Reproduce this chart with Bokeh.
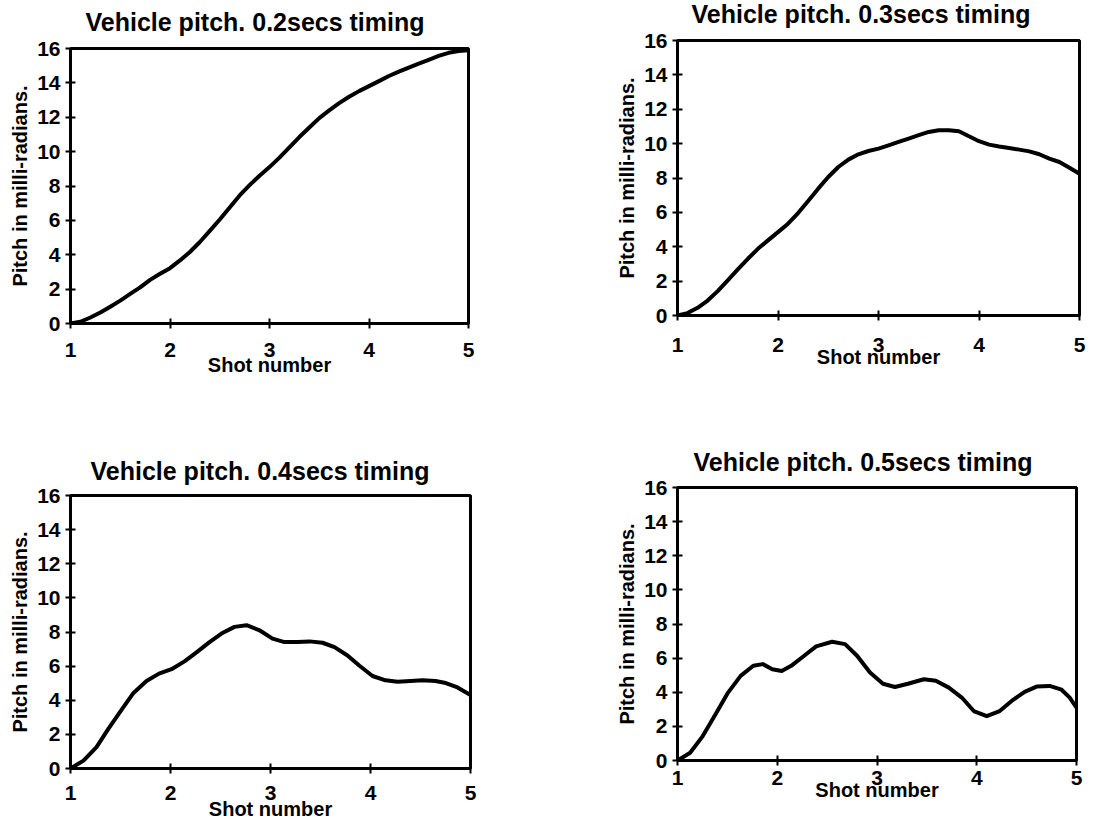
from bokeh.plotting import figure
from bokeh.layouts import row, column
from bokeh.models import FixedTicker
from bokeh.embed import file_html
from bokeh.resources import INLINE

# ---- data ----
titles = ["Vehicle pitch. 0.2secs timing", "Vehicle pitch. 0.3secs timing",
          "Vehicle pitch. 0.4secs timing", "Vehicle pitch. 0.5secs timing"]
x_label = "Shot number"
y_label = "Pitch in milli-radians."
x_ticks = [1, 2, 3, 4, 5]
y_ticks = [0, 2, 4, 6, 8, 10, 12, 14, 16]

shot_02 = [1.0, 1.1, 1.2, 1.3, 1.4, 1.5, 1.6, 1.7, 1.8, 1.9, 2.0, 2.1, 2.2, 2.3, 2.4, 2.5,
           2.6, 2.7, 2.8, 2.9, 3.0, 3.1, 3.2, 3.3, 3.4, 3.5, 3.6, 3.7, 3.8, 3.9, 4.0, 4.1,
           4.2, 4.3, 4.4, 4.5, 4.6, 4.7, 4.8, 4.9, 5.0]
pitch_02 = [0.0, 0.1, 0.35, 0.64, 0.98, 1.33, 1.72, 2.1, 2.54, 2.89, 3.22, 3.67, 4.16, 4.74,
            5.39, 6.05, 6.75, 7.45, 8.05, 8.6, 9.1, 9.65, 10.25, 10.85, 11.4, 11.95, 12.4,
            12.82, 13.19, 13.52, 13.81, 14.1, 14.4, 14.65, 14.89, 15.12, 15.34, 15.57, 15.75,
            15.85, 15.9]

shot_03 = [1.0, 1.1, 1.2, 1.3, 1.4, 1.5, 1.6, 1.7, 1.8, 1.9, 2.0, 2.1, 2.2, 2.3, 2.4, 2.5,
           2.6, 2.7, 2.8, 2.9, 3.0, 3.1, 3.2, 3.3, 3.4, 3.5, 3.6, 3.7, 3.8, 3.9, 4.0, 4.1,
           4.2, 4.3, 4.4, 4.5, 4.6, 4.7, 4.8, 4.9, 5.0]
pitch_03 = [0.0, 0.14, 0.45, 0.87, 1.42, 2.04, 2.68, 3.3, 3.88, 4.37, 4.85, 5.34, 5.96, 6.66,
            7.38, 8.06, 8.64, 9.07, 9.38, 9.57, 9.71, 9.9, 10.1, 10.29, 10.49, 10.68, 10.78,
            10.78, 10.72, 10.43, 10.14, 9.94, 9.83, 9.75, 9.65, 9.55, 9.38, 9.13, 8.93, 8.6,
            8.25]

shot_04 = [1.0, 1.13, 1.26, 1.38, 1.51, 1.63, 1.76, 1.885, 2.01, 2.14, 2.26, 2.39, 2.51, 2.64,
           2.76, 2.89, 3.02, 3.14, 3.27, 3.39, 3.52, 3.64, 3.77, 3.89, 4.02, 4.15, 4.27, 4.40,
           4.52, 4.65, 4.74, 4.87, 5.0]
pitch_04 = [0.0, 0.46, 1.25, 2.34, 3.44, 4.43, 5.13, 5.56, 5.82, 6.28, 6.81, 7.41, 7.91, 8.3,
            8.4, 8.1, 7.61, 7.41, 7.41, 7.45, 7.37, 7.11, 6.62, 6.02, 5.42, 5.17, 5.09, 5.13,
            5.17, 5.13, 5.03, 4.75, 4.3]

shot_05 = [1.0, 1.127, 1.253, 1.38, 1.507, 1.633, 1.76, 1.855, 1.95, 2.045, 2.14, 2.27, 2.39,
           2.55, 2.68, 2.80, 2.93, 3.06, 3.18, 3.31, 3.47, 3.59, 3.72, 3.85, 3.97, 4.10, 4.23,
           4.35, 4.48, 4.60, 4.73, 4.85, 4.93, 5.0]
pitch_05 = [0.0, 0.45, 1.43, 2.7, 3.98, 4.96, 5.55, 5.65, 5.35, 5.25, 5.55, 6.14, 6.69, 6.96,
            6.82, 6.14, 5.16, 4.5, 4.31, 4.5, 4.76, 4.67, 4.27, 3.69, 2.9, 2.6, 2.9, 3.49, 4.02,
            4.33, 4.37, 4.15, 3.7, 3.1]

FONT = "Liberation Sans"


def panel(title, xs, ys, width, height, left, top, fw, fh, title_offset, title_standoff,
          tick_standoff, label_standoff, extra_top=0):
    p = figure(width=width, height=height + extra_top, frame_width=fw, frame_height=fh,
               x_range=(1, 5), y_range=(0, 16), output_backend="svg",
               toolbar_location=None, title=title,
               min_border_left=left, min_border_top=top + extra_top,
               min_border_right=width - left - fw, min_border_bottom=height - top - fh)
    if extra_top:
        p.margin = (-extra_top, 0, 0, 0)
    p.title.text_font = FONT
    p.title.text_font_size = "25px"
    p.title.text_font_style = "bold"
    p.title.text_color = "black"
    p.title.align = "left"
    p.title.offset = title_offset
    p.title.standoff = title_standoff
    p.xgrid.visible = False
    p.ygrid.visible = False
    p.background_fill_color = "white"
    p.border_fill_color = "white"
    p.outline_line_color = "black"
    p.outline_line_width = 3
    for ax in (p.xaxis[0], p.yaxis[0]):
        ax.axis_line_width = 3
        ax.axis_line_color = "black"
        ax.major_tick_line_width = 2
        ax.major_tick_line_color = "black"
        ax.major_tick_in = 5
        ax.major_tick_out = 5
        ax.minor_tick_line_color = None
        ax.major_label_text_font = FONT
        ax.major_label_text_font_size = "21px"
        ax.major_label_text_font_style = "bold"
        ax.major_label_text_color = "black"
        ax.axis_label_text_font = FONT
        ax.axis_label_text_font_style = "bold"
        ax.axis_label_text_color = "black"
    p.xaxis[0].axis_label_text_font_size = "20px"
    p.yaxis[0].axis_label_text_font_size = "20px"
    p.xaxis[0].ticker = FixedTicker(ticks=x_ticks)
    p.yaxis[0].ticker = FixedTicker(ticks=y_ticks)
    p.xaxis[0].axis_label = x_label
    p.yaxis[0].axis_label = y_label
    p.xaxis[0].major_label_standoff = tick_standoff
    p.xaxis[0].axis_label_standoff = label_standoff
    p.yaxis[0].major_label_standoff = 5
    p.yaxis[0].axis_label_standoff = 3
    p.line(xs, ys, line_color="black", line_width=4, line_join="round", line_cap="round")
    return p


p1 = panel(titles[0], shot_02, pitch_02, 560, 410, 67, 48, 398, 275, 15, 25, 14, -6, 20)
p2 = panel(titles[1], shot_03, pitch_03, 550, 410, 110, 40, 402, 275, 14, 25, 17, -9, 20)
p3 = panel(titles[2], shot_04, pitch_04, 560, 411, 70, 85, 400, 273, 20, 21, 12, -5)
p4 = panel(titles[3], shot_05, pitch_05, 550, 411, 117, 77, 399, 273, 16, 23, 5, -9)

layout = row(column(p1, p3), column(p2, p4))
open("out.html", "w").write(file_html(layout, INLINE))
